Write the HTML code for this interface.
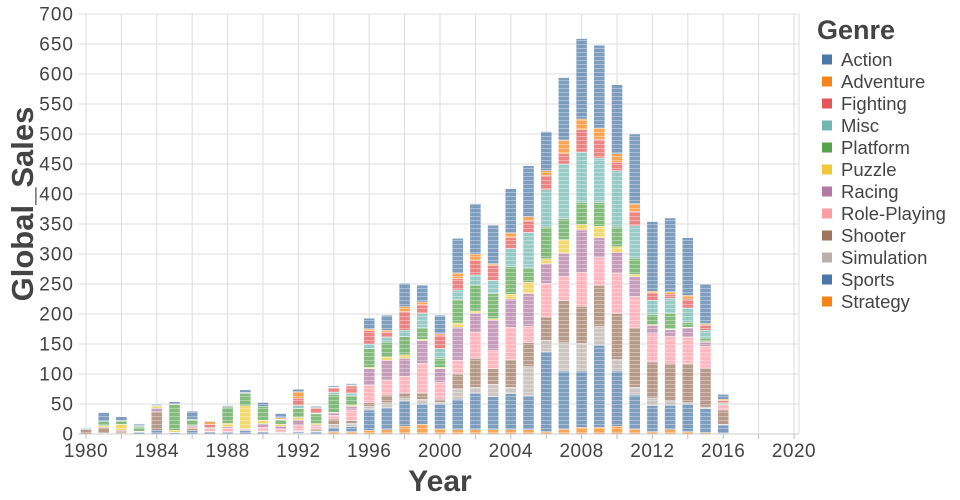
<!DOCTYPE html>
<html><head><meta charset="utf-8">
<style>
html,body{margin:0;padding:0;background:#fff;}
svg{display:block;font-family:"Liberation Sans","DejaVu Sans",sans-serif;}
</style></head>
<body>
<svg id="chart" width="960" height="500" viewBox="0 0 960 500">
  <defs>
    <pattern id="stripes" width="12" height="4" patternUnits="userSpaceOnUse">
      <rect x="0" y="0" width="12" height="1" fill="#fff" fill-opacity="0.35"/>
    </pattern>
  </defs>
  <g id="grid"></g>
  <g id="bars"></g>
  <g id="axes"></g>
  <text x="33" y="204" transform="rotate(-90 33 204)" text-anchor="middle" font-size="31" font-weight="bold" fill="#444">Global_Sales</text>
  <text x="440" y="491" text-anchor="middle" font-size="30" font-weight="bold" fill="#444">Year</text>
  <g id="legend">
    <text x="817" y="39" font-size="27" font-weight="bold" fill="#444">Genre</text>
  </g>
</svg>
<script>
const genres = ["Action","Adventure","Fighting","Misc","Platform","Puzzle","Racing","Role-Playing","Shooter","Simulation","Sports","Strategy"];
const colors = ["#4c78a8","#f58518","#e45756","#72b7b2","#54a24b","#eeca3b","#b279a2","#ff9da6","#9d755d","#bab0ac","#4c78a8","#f58518"];
const years = [1980,1981,1982,1983,1984,1985,1986,1987,1988,1989,1990,1991,1992,1993,1994,1995,1996,1997,1998,1999,2000,2001,2002,2003,2004,2005,2006,2007,2008,2009,2010,2011,2012,2013,2014,2015,2016];
// values per year in genre order: Act, Adv, Fig, Misc, Plat, Puz, Rac, RPG, Sh, Sim, Sp, Str
const sales = [
 [0.3,0,0.8,2.7,0,0,0,0,7.1,0,0,0],
 [14.8,0,0,0,6.9,2.2,0.5,0,10,0.5,0.8,0],
 [6.5,0,0,0.9,5,10,1.6,0,3.8,0,1,0],
 [2.9,0.4,0,2.1,7,0.8,0,0,0.5,0,3.2,0],
 [1.9,0,0,1.5,0.7,3.1,6,0,31,0,6.2,0],
 [3.5,0,1,0,43,3.2,0,0,1,0,2,0],
 [13.7,0.8,0,0,9.4,0,2,2.5,3.9,0,5.6,0],
 [1.1,4.4,5.4,0,1.7,0,0,4.7,0.7,0,3.7,0],
 [1.7,0.2,0,0,27.7,5.6,2.1,5.9,0.5,0,3.6,0],
 [4.6,0,0,1.3,20.7,37.8,0,2.2,1.2,0,5.7,0],
 [6.4,0,0,0,23,5.8,6.3,6,0,1.1,3.9,0],
 [6.8,2.2,0.4,1,7.6,3.2,4.7,4.9,1.3,0.5,0.5,0.9],
 [4,11,12,5,15,4,9,9,0.5,1,3,1],
 [2,0.5,9,1,16,3,1.5,5,3,1,3.5,0.5],
 [2,1,7,4,30,1,4,6,9,5,7,4],
 [3,1,12,4,16,2,6,18,4,6,8,4],
 [18,3,22,8,31,2,28,29,6,6,34,6],
 [25,3,9,8,25,5,33,25,13,8,37,7],
 [39,8,31,11,30,6,30,28,8,5,42,13],
 [28,5,14,24,19,2,38,50,10,8,34,16],
 [31,2,23,16,15,2,23,28,5,3,42,8],
 [58,9,19,16,39,7,55,23,25,17,51,7],
 [84,10,25,17,43,4,31,44,48,10,61,7],
 [64,3,25,22,42,2,51,30,26,21,55,7],
 [74,8,18,30,46,8,47,54,46,11,60,7],
 [85,7,19,59,24,19,55,27,40,48,57,7],
 [65,8,24,62,53,8,33,56,39,19,133,4],
 [104,23,17,91,35,23,38,41,70,47,97,8],
 [134,18,37,84,37,9,71,56,62,46,94,11],
 [138,19,31,74,40,19,33,46,69,31,137,11],
 [115,14,14,94,33,9,35,67,77,19,92,13],
 [116,13,24,54,27,4,33,52,99,13,57,8],
 [116,3,12,24,17,1,14,47,60,13,43,4],
 [123,4,7,25,26,1,12,44,63,7,41,7],
 [96,6,15,24,8,1,16,44,65,2,46,4],
 [66,3,8,13,6,1,7,36,65,3,40,2],
 [8,2,4,1,2,0,2,7,24,1,14,1]
];
const yTicks = [0,50,100,150,200,250,300,350,400,450,500,550,600,650,700];
const xTickLabels = [1980,1984,1988,1992,1996,2000,2004,2008,2012,2016,2020];

const NS = "http://www.w3.org/2000/svg";
const X0 = 78, X1 = 799, Y0 = 434, Y1 = 14;
function xPos(yr){ return 86 + (yr - 1980) * 17.7; }
function yPos(v){ return Y0 - (v / 700) * (Y0 - Y1); }
function mk(tag, attrs, parent){ const e = document.createElementNS(NS, tag); for (const k in attrs) e.setAttribute(k, attrs[k]); parent.appendChild(e); return e; }

const grid = document.getElementById("grid");
const axes = document.getElementById("axes");
const barsG = document.getElementById("bars");
const legend = document.getElementById("legend");

yTicks.forEach(t => {
  const y = yPos(t);
  const gl = mk("line", {x1: X0, x2: X1, y1: y, y2: y, stroke: "#ddd", "stroke-width": 1}, grid);
  
  
  const lb = mk("text", {x: 74, y: y + 6.5, "text-anchor": "end", "font-size": 19, "letter-spacing": 1, fill: "#444"}, axes);
  lb.textContent = t;
  
  
});
for (let yr = 1980; yr <= 2020; yr += 2) {
  const x = xPos(yr);
  const gl = mk("line", {x1: x, x2: x, y1: Y1, y2: Y0, stroke: "#ddd", "stroke-width": 1}, grid);
  
  
  const tk = mk("line", {x1: x, x2: x, y1: Y0, y2: Y0 + 5, stroke: "#bbb", "stroke-width": 1}, axes);
  
  
}
const bx = mk("line", {x1: X0, x2: X1, y1: Y0, y2: Y0, stroke: "#ccc", "stroke-width": 1}, axes);


const rb = mk("line", {x1: X1, x2: X1, y1: Y1, y2: Y0, stroke: "#ddd", "stroke-width": 1}, grid);


xTickLabels.forEach(yr => {
  const lb = mk("text", {x: xPos(yr), y: Y0 + 23, "text-anchor": "middle", "font-size": 19, "letter-spacing": 0.5, fill: "#444"}, axes);
  lb.textContent = yr;
  
  
});

years.forEach((yr, i) => {
  let acc = 0;
  const cx = xPos(yr);
  for (let g = genres.length - 1; g >= 0; g--) {
    const v = sales[i][g];
    if (!v) continue;
    const yTop = yPos(acc + v), yBot = yPos(acc);
    const r = mk("rect", {x: cx - 5.5, y: yTop, width: 11, height: Math.max(0.5, yBot - yTop), fill: colors[g], "fill-opacity": 0.72, stroke: "#fff", "stroke-width": 0.4}, barsG);
    
    
    const s = mk("rect", {x: cx - 5.5, y: yTop, width: 11, height: Math.max(0.5, yBot - yTop), fill: "url(#stripes)"}, barsG);
    
    
    acc += v;
  }
});

genres.forEach((g, i) => {
  const y = 59.5 + i * 22;
  const sym = mk("rect", {x: 822, y: y - 5, width: 10, height: 10, fill: colors[i]}, legend);
  
  
  const t = mk("text", {x: 841, y: y + 6.5, "font-size": 18.5, fill: "#444"}, legend);
  t.textContent = g;
  
  
});
</script>
</body></html>
